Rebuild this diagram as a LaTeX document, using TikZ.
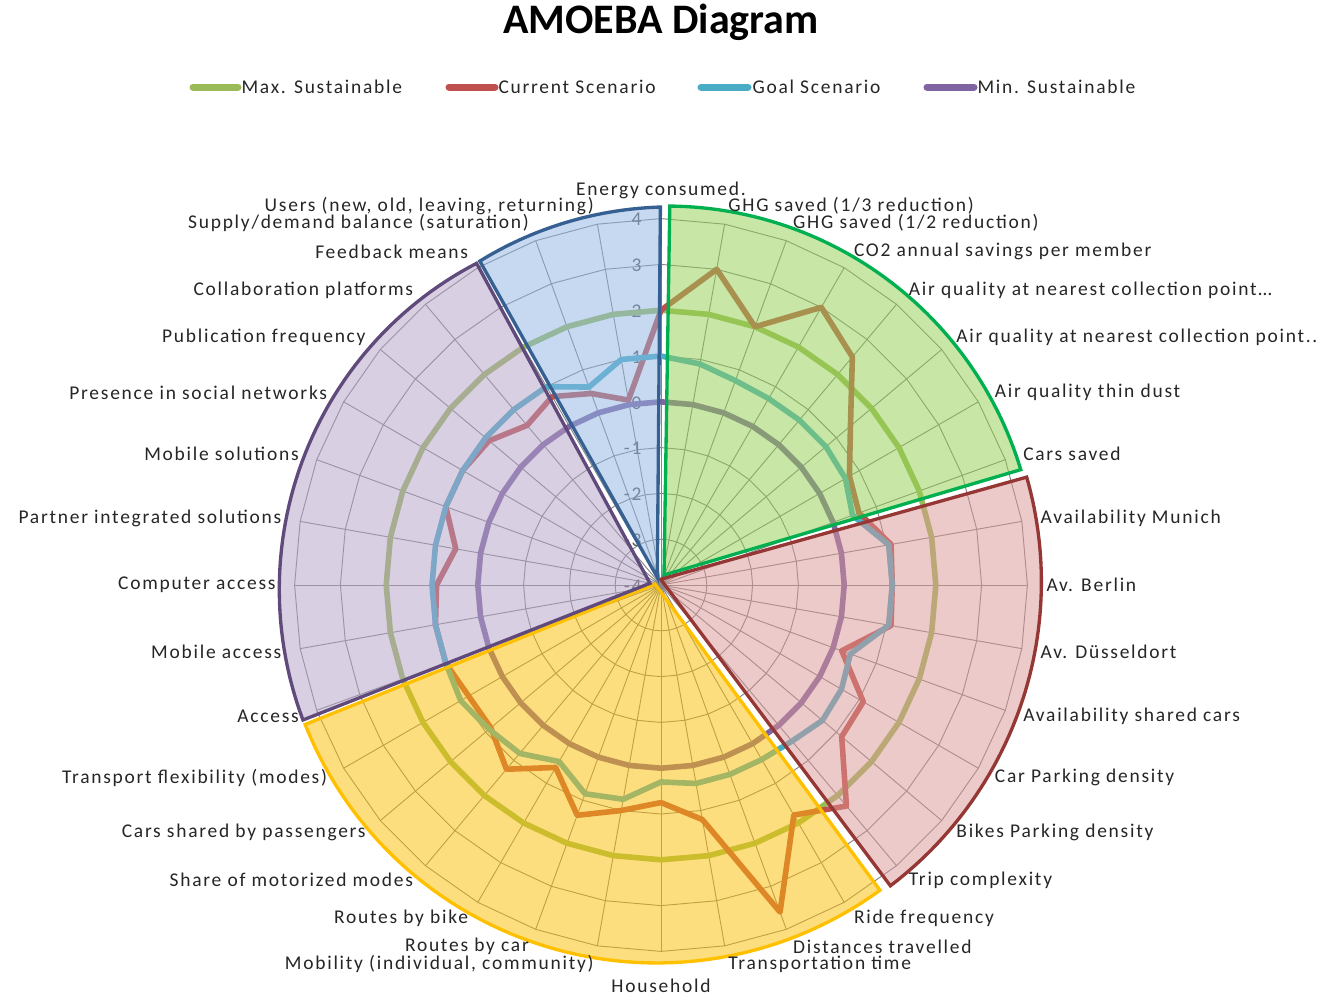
\documentclass[tikz,border=0pt]{standalone}
\usepackage{fontspec}
\setmainfont{Carlito}
\newfontfamily\lblfont[LetterSpace=9]{Carlito}

\definecolor{maxgreen}{RGB}{155,187,89}
\definecolor{curred}{RGB}{192,80,77}
\definecolor{goalblue}{RGB}{75,172,198}
\definecolor{minpurple}{RGB}{128,100,162}
\definecolor{gridgray}{RGB}{134,134,134}
\definecolor{valgray}{RGB}{89,89,89}
\definecolor{txtdark}{RGB}{38,38,38}
\definecolor{envfill}{RGB}{146,208,80}
\definecolor{envedge}{RGB}{0,176,80}
\definecolor{availfill}{RGB}{217,150,148}
\definecolor{availedge}{RGB}{149,55,53}
\definecolor{mobfill}{RGB}{253,191,1}
\definecolor{mobedge}{RGB}{255,192,0}
\definecolor{commfill}{RGB}{178,161,199}
\definecolor{commedge}{RGB}{96,74,123}
\definecolor{userfill}{RGB}{142,180,227}
\definecolor{useredge}{RGB}{55,96,146}

% radar centre and unit (one step of the scale)
\def\rcx{661}
\def\rcy{585}
\def\runit{45.8}

\tikzset{every picture/.style={line width=0.75pt}}

\begin{document}
\begin{tikzpicture}[x=0.75pt,y=0.75pt,yscale=-1,xscale=1,
  gridline/.style={draw=gridgray,line width=0.7pt},
  series/.style={line width=4.2pt,line join=round},
  sector/.style={fill opacity=0.5,line width=2.5pt,line join=miter},
  axlbl/.style={font=\lblfont\fontsize{14.6}{16}\selectfont,text=txtdark,inner sep=0pt},
  vallbl/.style={font=\lblfont\fontsize{14.6}{16}\selectfont,text=valgray,inner sep=0pt,anchor=east},
  legline/.style={line width=5.25pt,line cap=round}]
\useasboundingbox (0,0) rectangle (1325,1001);
\fill[white] (0,0) rectangle (1325,1001);
\coordinate (ctr) at (\rcx,\rcy);

% Text Node
\node[font=\bfseries\fontsize{31.5}{36}\selectfont] (title) at (661,22) {AMOEBA Diagram};

%Legend
\draw[legline,maxgreen] (193,87) -- (238,87);
\node[axlbl,anchor=west] (legmax) at (241,87) {Max. Sustainable};
\draw[legline,curred] (449,87) -- (495,87);
\node[axlbl,anchor=west] (legcur) at (498,87) {Current Scenario};
\draw[legline,goalblue] (701,87) -- (748,87);
\node[axlbl,anchor=west] (leggoal) at (752,87) {Goal Scenario};
\draw[legline,minpurple] (927,87) -- (974,87);
\node[axlbl,anchor=west] (legmin) at (977,87) {Min. Sustainable};

%Grid: rings and spokes
\foreach \k in {1,...,8}
  \draw[gridline] (\rcx,{\rcy-\k*\runit}) \foreach \j in {1,...,35} { -- ({\rcx+\k*\runit*cos(90-10*\j)},{\rcy-\k*\runit*sin(90-10*\j)}) } -- cycle;
\foreach \j in {0,...,35}
  \draw[gridline] (ctr) -- ({\rcx+8*\runit*cos(90-10*\j)},{\rcy-8*\runit*sin(90-10*\j)});

% Text Node (scale)
\foreach \v [count=\k from 0] in {-4,-3,-2,-1,0,1,2,3,4}
  \node[vallbl] (val\k) at (642,{\rcy-\k*\runit+1}) {\v};

%Series: Max. Sustainable
\draw[series,maxgreen] (\rcx,{\rcy-6*\runit}) \foreach \j in {1,...,35} { -- ({\rcx+6*\runit*cos(90-10*\j)},{\rcy-6*\runit*sin(90-10*\j)}) } -- cycle;
%Series: Current Scenario
\draw[series,curred] (\rcx,{\rcy-6*\runit})
  \foreach \v [count=\j from 0] in {2,3,2,3,2.5,1.4,0.75,0.6,1.1,1.05,1.1,0.2,1.1,1.15,2.3,1.8,3.6,1.2,0.75,1,1.35,0.6,1.25,0.85,0.85,1,1,0.9,0.55,1,1,0.9,0.55,0.75,0.45,0.1}
  { -- ({\rcx+(\v+4)*\runit*cos(90-10*\j)},{\rcy-(\v+4)*\runit*sin(90-10*\j)}) } -- cycle;
%Series: Goal Scenario
\draw[series,goalblue] (\rcx,{\rcy-5*\runit})
  \foreach \v [count=\j from 0] in {1,0.9,0.75,0.7,0.7,0.7,0.65,0.45,1.05,1.05,1.05,0.4,0.55,0.6,0.45,0.4,0.4,0.4,0.3,0.75,0.85,0.45,0.8,0.9,1.05,1,1,1,1,1,1,1,1,1,0.6,1}
  { -- ({\rcx+(\v+4)*\runit*cos(90-10*\j)},{\rcy-(\v+4)*\runit*sin(90-10*\j)}) } -- cycle;
%Series: Min. Sustainable
\draw[series,minpurple] (\rcx,{\rcy-4*\runit}) \foreach \j in {1,...,35} { -- ({\rcx+4*\runit*cos(90-10*\j)},{\rcy-4*\runit*sin(90-10*\j)}) } -- cycle;

%Shape: Sector (environment)
\path[sector,fill=envfill,draw=envedge] (664,575) -- plot[domain=0:1,samples=60] ({664+(369+3*\x)*cos(89.1-72.7*\x)},{575-(369+3*\x)*sin(89.1-72.7*\x)}) -- cycle;
%Shape: Sector (availability)
\path[sector,fill=availfill,draw=availedge] (660.7,579.3) -- plot[domain=0:1,samples=60] ({660.7+(380+3*\x)*cos(15.6-68.8*\x)},{579.3-(380+3*\x)*sin(15.6-68.8*\x)}) -- cycle;
%Shape: Sector (mobility)
\path[sector,fill=mobfill,draw=mobedge] (655,584) -- plot[domain=0:1,samples=60] ({655+(380-3*\x)*cos(-53.7-104.5*\x)},{584-(380-3*\x)*sin(-53.7-104.5*\x)}) -- cycle;
%Shape: Sector (communication)
\path[sector,fill=commfill,draw=commedge] (650,583.3) -- plot[domain=0:1,samples=60] ({650+(373-9*\x)*cos(201.5-83.1*\x)},{583.3-(373-9*\x)*sin(201.5-83.1*\x)}) -- cycle;
%Shape: Sector (users)
\path[sector,fill=userfill,draw=useredge] (657.3,577.3) -- plot[domain=0:1,samples=60] ({657.3+(362.6+7.7*\x)*cos(119.3-29.8*\x)},{577.3-(362.6+7.7*\x)*sin(119.3-29.8*\x)}) -- cycle;

% Text Node (categories)
\node[axlbl,anchor=south] (lbl0) at (661,199) {Energy consumed.};
\node[axlbl,anchor=north] (lbl18) at (661,978) {Household};
\foreach \i/\t in {1/{GHG saved (1/3 reduction)},2/{GHG saved (1/2 reduction)},3/{CO2 annual savings per member},
  4/{Air quality at nearest collection point…},5/{Air quality at nearest collection point..},6/{Air quality thin dust},
  7/{Cars saved},8/{Availability Munich},9/{Av. Berlin},10/{Av. Düsseldort},11/{Availability shared cars},
  12/{Car Parking density},13/{Bikes Parking density},14/{Trip complexity},15/{Ride frequency},
  16/{Distances travelled},17/{Transportation time}}
  \node[axlbl,anchor=west] (lbl\i) at ({\rcx+385*cos(90-10*\i)},{\rcy-385*sin(90-10*\i)}) {\t};
\foreach \i/\t in {19/{Mobility (individual, community)},20/{Routes by car},21/{Routes by bike},
  22/{Share of motorized modes},23/{Cars shared by passengers},24/{Transport flexibility (modes)},
  25/{Access},26/{Mobile access},27/{Computer access},28/{Partner integrated solutions},
  29/{Mobile solutions},30/{Presence in social networks},31/{Publication frequency},
  32/{Collaboration platforms},33/{Feedback means},34/{Supply/demand balance (saturation)},
  35/{Users (new, old, leaving, returning)}}
  \node[axlbl,anchor=east] (lbl\i) at ({\rcx+385*cos(90-10*\i)},{\rcy-385*sin(90-10*\i)}) {\t};

\end{tikzpicture}
\end{document}
